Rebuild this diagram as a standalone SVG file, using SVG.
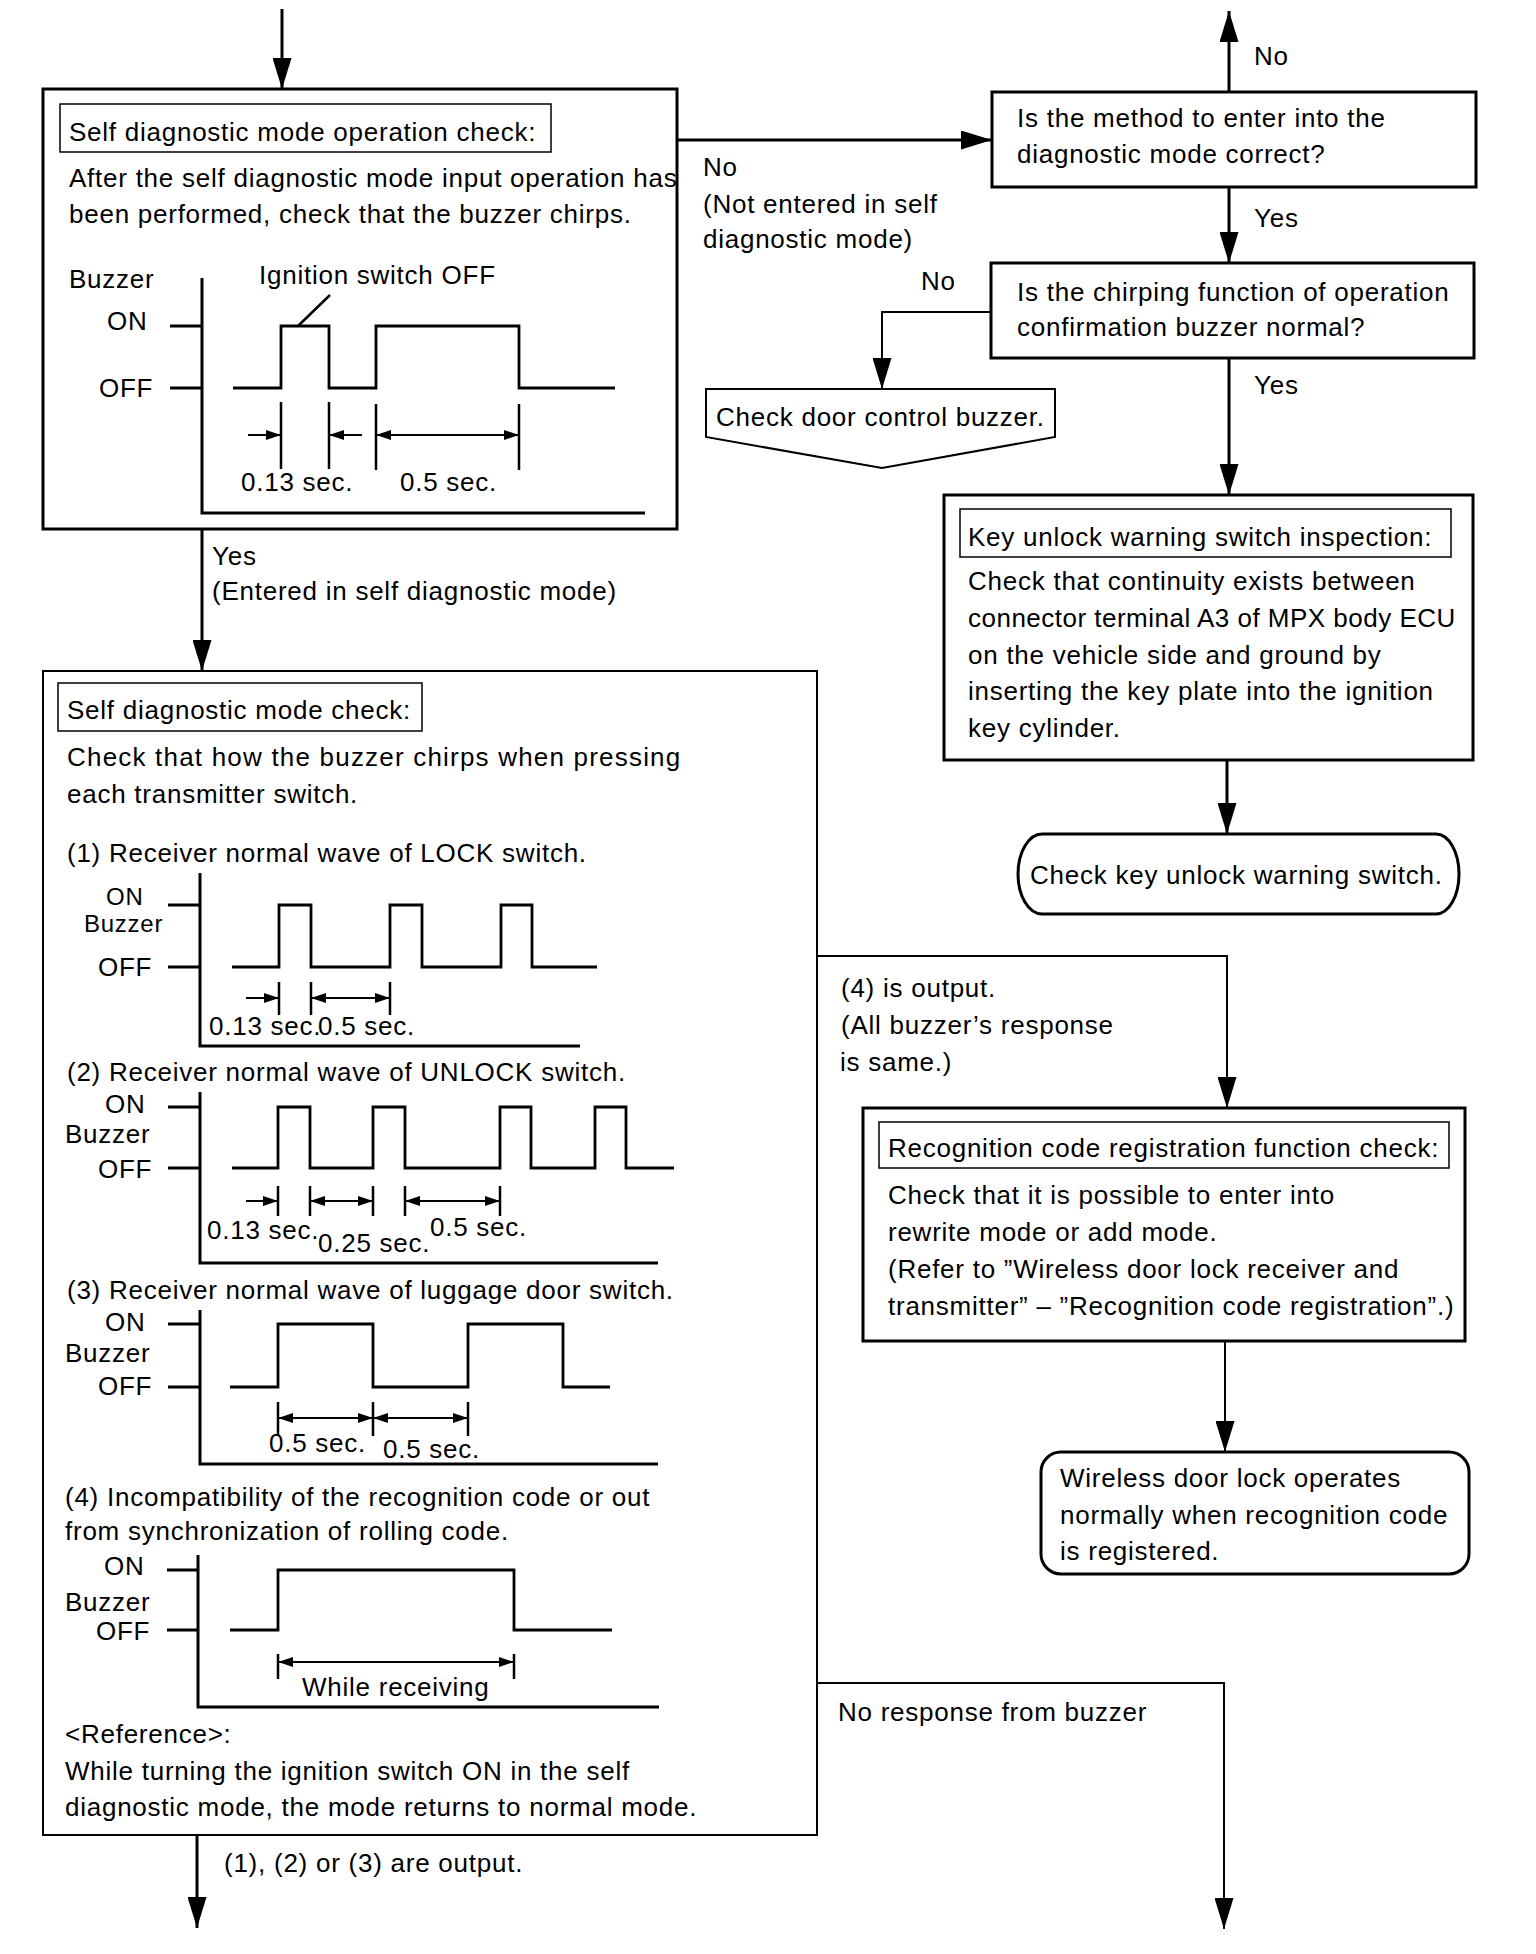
<svg xmlns="http://www.w3.org/2000/svg" width="1536" height="1954" viewBox="0 0 1536 1954">
<style>
text{font-family:"Liberation Sans",Arial,sans-serif;font-size:26px;letter-spacing:0.75px;fill:#000}
.sm{font-size:24px}
.box{fill:#fff;stroke:#000;stroke-width:3}
.thin{fill:none;stroke:#000;stroke-width:2}
.ttl{fill:none;stroke:#000;stroke-width:1.5}
.ln{fill:none;stroke:#000;stroke-width:3}
.ln2{fill:none;stroke:#000;stroke-width:2}
.wave{fill:none;stroke:#000;stroke-width:2.8}
.dim{fill:none;stroke:#000;stroke-width:2.5}
.da{fill:none;stroke:#000;stroke-width:2;marker-end:url(#sa)}
.db{fill:none;stroke:#000;stroke-width:2;marker-start:url(#sa);marker-end:url(#sa)}
</style>
<defs>
<marker id="ah" viewBox="0 0 31 19" refX="31" refY="9.5" markerWidth="31" markerHeight="19" markerUnits="userSpaceOnUse" orient="auto"><path d="M0,0 L31,9.5 L0,19 Z" fill="#000"/></marker>
<marker id="sa" viewBox="0 0 15 10" refX="15" refY="5" markerWidth="15" markerHeight="10" markerUnits="userSpaceOnUse" orient="auto-start-reverse"><path d="M0,0 L15,5 L0,10 Z" fill="#000"/></marker>
</defs>
<rect width="1536" height="1954" fill="#fff"/>

<g id="connectors">
<path class="ln" d="M282,9 V89" marker-end="url(#ah)"/>
<path class="ln" d="M677,140 H992" marker-end="url(#ah)"/>
<path class="ln" d="M1229,92 V11" marker-end="url(#ah)"/>
<path class="ln" d="M1229,187 V263" marker-end="url(#ah)"/>
<path class="ln2" d="M991,312 H882 V389" marker-end="url(#ah)"/>
<path class="ln" d="M1229,358 V495" marker-end="url(#ah)"/>
<path class="ln" d="M1227,760 V834" marker-end="url(#ah)"/>
<path class="ln" d="M202,529 V671" marker-end="url(#ah)"/>
<path class="ln2" d="M817,956 H1227 V1108" marker-end="url(#ah)"/>
<path class="ln2" d="M1225,1341 V1452" marker-end="url(#ah)"/>
<path class="ln" d="M197,1835 V1928" marker-end="url(#ah)"/>
<path class="ln2" d="M817,1683 H1224 V1929" marker-end="url(#ah)"/>
<text x="703" y="176">No</text>
<text x="703" y="213">(Not entered in self</text>
<text x="703" y="248">diagnostic mode)</text>
<text x="1254" y="65">No</text>
<text x="1254" y="227">Yes</text>
<text x="921" y="290">No</text>
<text x="1254" y="394">Yes</text>
<text x="212" y="565">Yes</text>
<text x="212" y="600">(Entered in self diagnostic mode)</text>
<text x="841" y="997">(4) is output.</text>
<text x="841" y="1034">(All buzzer’s response</text>
<text x="840" y="1071">is same.)</text>
<text x="224" y="1872">(1), (2) or (3) are output.</text>
<text x="838" y="1721">No response from buzzer</text>
</g>

<g id="self-diag-operation-check">
<rect class="box" x="43" y="89" width="634" height="440"/>
<rect class="ttl" x="60" y="104" width="491" height="48"/>
<text x="69" y="141">Self diagnostic mode operation check:</text>
<text x="69" y="187">After the self diagnostic mode input operation has</text>
<text x="69" y="223">been performed, check that the buzzer chirps.</text>
<path class="ln" d="M202,278 V513 H645 M170,326 H202 M170,388 H202"/>
<path class="wave" d="M233,388 H281 V326 H329 V388 H376 V326 H519 V388 H615"/>
<path class="dim" d="M298,326 L330,295 M281,402 V469 M329,402 V469 M376,404 V470 M519,404 V470"/>
<path class="da" d="M248,435 H281"/>
<path class="da" d="M362,435 H329"/>
<path class="db" d="M376,435 H519"/>
<text x="69" y="288">Buzzer</text>
<text x="107" y="330">ON</text>
<text x="99" y="397">OFF</text>
<text x="259" y="284">Ignition switch OFF</text>
<text x="241" y="491">0.13 sec.</text>
<text x="400" y="491">0.5 sec.</text>
</g>

<g id="q-method">
<rect class="box" x="992" y="92" width="484" height="95"/>
<text x="1017" y="127">Is the method to enter into the</text>
<text x="1017" y="163">diagnostic mode correct?</text>
</g>

<g id="q-chirping">
<rect class="box" x="991" y="263" width="483" height="95"/>
<text x="1017" y="301">Is the chirping function of operation</text>
<text x="1017" y="336">confirmation buzzer normal?</text>
</g>

<g id="check-door-control-buzzer">
<polygon class="thin" points="706,389 1055,389 1055,437 882,468 706,437"/>
<text x="716" y="426">Check door control buzzer.</text>
</g>

<g id="key-unlock-inspection">
<rect class="box" x="944" y="495" width="529" height="265"/>
<rect class="ttl" x="960" y="509" width="491" height="48"/>
<text x="968" y="546">Key unlock warning switch inspection:</text>
<text x="968" y="590">Check that continuity exists between</text>
<text x="968" y="627" textLength="488" lengthAdjust="spacing">connector terminal A3 of MPX body ECU</text>
<text x="968" y="664">on the vehicle side and ground by</text>
<text x="968" y="700">inserting the key plate into the ignition</text>
<text x="968" y="737">key cylinder.</text>
</g>

<g id="check-key-unlock-switch">
<path class="box" d="M1042,834 H1436 A23,40 0 0 1 1436,914 H1042 A24,40 0 0 1 1042,834 Z"/>
<text x="1030" y="884">Check key unlock warning switch.</text>
</g>

<g id="self-diag-mode-check">
<rect class="box" style="stroke-width:2" x="43" y="671" width="774" height="1164"/>
<rect class="ttl" x="58" y="683" width="364" height="48"/>
<text x="67" y="719">Self diagnostic mode check:</text>
<text x="67" y="766" textLength="614" lengthAdjust="spacing">Check that how the buzzer chirps when pressing</text>
<text x="67" y="803">each transmitter switch.</text>
<text x="67" y="862">(1) Receiver normal wave of LOCK switch.</text>
<path class="ln" d="M200,873 V1046 H580 M168,905 H200 M168,967 H200"/>
<path class="wave" d="M232,967 H279 V905 H311 V967 H390 V905 H422 V967 H501 V905 H532 V967 H597"/>
<path class="dim" d="M279,982 V1015 M311,982 V1015 M390,982 V1015"/>
<path class="da" d="M246,998 H279"/>
<path class="db" d="M311,998 H390"/>
<text class="sm" x="106" y="905">ON</text>
<text class="sm" x="84" y="932">Buzzer</text>
<text x="98" y="976">OFF</text>
<text x="209" y="1035">0.13 sec.</text>
<text x="318" y="1035">0.5 sec.</text>

<text x="67" y="1081">(2) Receiver normal wave of UNLOCK switch.</text>
<path class="ln" d="M200,1092 V1263 H658 M168,1107 H200 M168,1168 H200"/>
<path class="wave" d="M232,1168 H278 V1107 H310 V1168 H373 V1107 H405 V1168 H500 V1107 H531 V1168 H595 V1107 H626 V1168 H674"/>
<path class="dim" d="M278,1186 V1216 M310,1186 V1216 M373,1186 V1216 M405,1186 V1216 M500,1186 V1216"/>
<path class="da" d="M246,1201 H278"/>
<path class="db" d="M310,1201 H373"/>
<path class="db" d="M405,1201 H500"/>
<text x="105" y="1113">ON</text>
<text x="65" y="1143">Buzzer</text>
<text x="98" y="1178">OFF</text>
<text x="207" y="1239">0.13 sec.</text>
<text x="318" y="1252">0.25 sec.</text>
<text x="430" y="1236">0.5 sec.</text>

<text x="67" y="1299">(3) Receiver normal wave of luggage door switch.</text>
<path class="ln" d="M200,1310 V1464 H658 M168,1324 H200 M168,1387 H200"/>
<path class="wave" d="M230,1387 H278 V1324 H373 V1387 H468 V1324 H563 V1387 H610"/>
<path class="dim" d="M278,1402 V1436 M373,1402 V1436 M468,1402 V1436"/>
<path class="db" d="M278,1418 H373"/>
<path class="db" d="M373,1418 H468"/>
<text x="105" y="1331">ON</text>
<text x="65" y="1362">Buzzer</text>
<text x="98" y="1395">OFF</text>
<text x="269" y="1452">0.5 sec.</text>
<text x="383" y="1458">0.5 sec.</text>

<text x="65" y="1506">(4) Incompatibility of the recognition code or out</text>
<text x="65" y="1540">from synchronization of rolling code.</text>
<path class="ln" d="M198,1555 V1707 H659 M167,1570 H198 M167,1630 H198"/>
<path class="wave" d="M230,1630 H278 V1570 H514 V1630 H612"/>
<path class="dim" d="M278,1654 V1679 M514,1654 V1679"/>
<path class="db" d="M278,1662 H514"/>
<text x="104" y="1575">ON</text>
<text x="65" y="1611">Buzzer</text>
<text x="96" y="1640">OFF</text>
<text x="302" y="1696">While receiving</text>
<text x="65" y="1743">&lt;Reference&gt;:</text>
<text x="65" y="1780">While turning the ignition switch ON in the self</text>
<text x="65" y="1816">diagnostic mode, the mode returns to normal mode.</text>
</g>

<g id="recognition-code-check">
<rect class="box" x="863" y="1108" width="602" height="233"/>
<rect class="ttl" x="879" y="1122" width="570" height="46"/>
<text x="888" y="1157">Recognition code registration function check:</text>
<text x="888" y="1204">Check that it is possible to enter into</text>
<text x="888" y="1241">rewrite mode or add mode.</text>
<text x="888" y="1278">(Refer to ”Wireless door lock receiver and</text>
<text x="888" y="1315">transmitter” – ”Recognition code registration”.)</text>
</g>

<g id="wireless-ok">
<rect class="box" x="1041" y="1452" width="428" height="122" rx="20" ry="20"/>
<text x="1060" y="1487">Wireless door lock operates</text>
<text x="1060" y="1524">normally when recognition code</text>
<text x="1060" y="1560">is registered.</text>
</g>
</svg>
